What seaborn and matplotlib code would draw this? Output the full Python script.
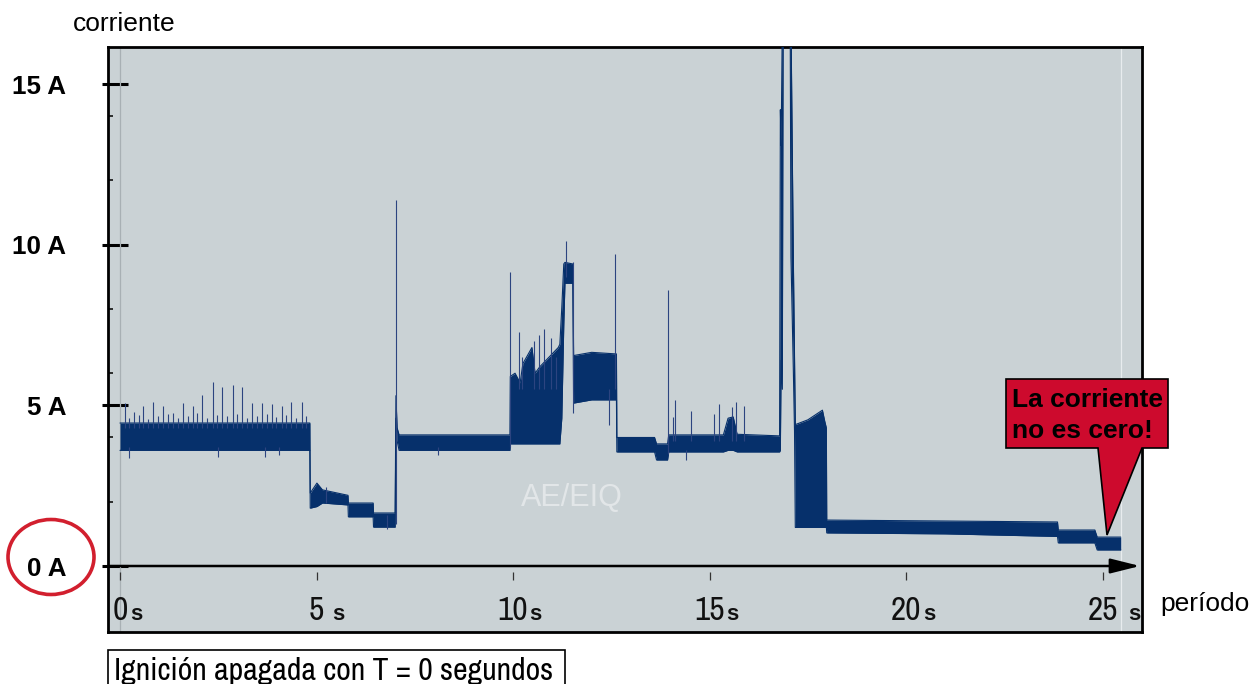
import numpy as np
import pandas as pd
import matplotlib
matplotlib.use('Agg')
import matplotlib.pyplot as plt
import matplotlib.transforms as mtransforms
from matplotlib.patches import Ellipse, Polygon, Rectangle
from matplotlib import font_manager
import seaborn as sns

# band of the trace (time in s, lower / upper edge in A)
env_t = [0.00, 4.83, 4.84, 5.01, 5.15, 5.80, 5.81, 6.44, 6.45, 7.00, 7.02, 7.05, 7.10,
         9.92, 9.93, 10.05, 10.18, 10.25, 10.48, 10.56, 10.68, 11.15, 11.19, 11.24, 11.29,
         11.32, 11.52, 11.54, 12.00, 12.63, 12.64, 13.60, 13.65, 13.93, 13.96, 15.35, 15.47,
         15.60, 15.70, 16.78, 16.80, 16.82, 16.85, 16.87, 17.05, 17.07, 17.13, 17.16, 17.18,
         17.50, 17.87, 17.93, 17.97, 17.98, 21.00, 23.85, 23.87, 24.80, 24.86, 25.46]
env_lo = [3.60, 3.60, 1.80, 1.85, 1.96, 1.90, 1.53, 1.53, 1.21, 1.21, 4.60, 3.90, 3.60,
          3.60, 3.80, 3.80, 3.80, 3.80, 3.80, 3.80, 3.80, 3.80, 3.80, 4.60, 7.50,
          8.80, 8.80, 5.07, 5.17, 5.17, 3.55, 3.55, 3.30, 3.30, 3.55, 3.55, 3.60,
          3.60, 3.55, 3.55, 3.60, 6.40, 5.50, 17.0, 17.0, 9.60, 6.10, 4.20, 1.20,
          1.20, 1.20, 1.20, 1.20, 1.03, 1.00, 0.92, 0.72, 0.72, 0.50, 0.50]
env_hi = [4.45, 4.45, 2.27, 2.58, 2.37, 2.20, 1.96, 1.96, 1.65, 1.65, 5.30, 4.30, 4.08,
          4.08, 5.90, 6.00, 5.70, 6.30, 6.80, 6.00, 6.20, 6.80, 6.90, 8.06, 9.40,
          9.45, 9.40, 6.55, 6.65, 6.60, 4.00, 4.00, 3.80, 3.80, 4.08, 4.08, 4.60,
          4.64, 4.10, 4.05, 14.2, 13.1, 17.0, 17.5, 17.5, 17.0, 9.60, 6.50, 4.40,
          4.55, 4.85, 4.50, 4.30, 1.43, 1.40, 1.37, 1.12, 1.12, 0.90, 0.90]

# single spikes (time, from, to) in A
spike_t = [0.127, 0.364, 0.593, 0.847, 1.100, 1.356, 1.595, 1.849, 2.094, 2.358, 2.595,
           2.867, 3.104, 3.350, 3.605, 3.859, 4.113, 4.350, 4.622,
           0.24, 0.49, 0.72, 0.97, 1.23, 1.47, 1.72, 1.97, 2.22, 2.48, 2.73, 2.98,
           3.23, 3.48, 3.73, 3.98, 4.23, 4.48, 4.74,
           0.23, 2.49, 3.69, 4.05,
           7.01, 9.91, 10.15, 10.23, 10.53, 10.66, 10.79, 10.96, 11.09, 11.35, 11.52,
           12.44, 12.59, 13.94, 14.07, 14.12, 14.52, 15.11, 15.24, 15.57, 15.67, 15.87,
           5.25, 6.80, 8.10, 14.40]
spike_lo = ([4.3] * 19 + [4.3] * 19 + [3.35, 3.40, 3.40, 3.45] +
            [1.3, 3.7, 5.5, 5.5, 5.5, 5.5, 5.5, 5.5, 5.5, 9.0, 4.75,
             4.4, 5.5, 3.5, 3.9, 3.9, 3.9, 3.9, 3.9, 3.9, 3.9, 3.9] +
            [1.95, 1.15, 3.45, 3.30])
spike_hi = ([5.07, 4.80, 4.98, 5.10, 4.98, 4.75, 5.07, 4.98, 5.32, 5.73, 5.57,
             5.63, 5.57, 5.07, 5.07, 5.04, 4.98, 5.10, 5.10] +
            [4.62, 4.70, 4.58, 4.66, 4.72, 4.60, 4.68, 4.75, 4.62, 4.70, 4.66, 4.74,
             4.60, 4.68, 4.72, 4.64, 4.70, 4.62, 4.68] +
            [3.70, 3.70, 3.70, 3.70] +
            [11.4, 9.15, 7.28, 6.50, 7.00, 7.20, 7.37, 7.10, 6.50, 10.1, 9.45,
             5.50, 9.70, 8.60, 4.64, 5.17, 4.82, 4.73, 5.04, 4.95, 5.10, 4.98] +
            [2.45, 1.60, 3.70, 3.60])

x_ticks = [0, 5, 10, 15, 20, 25]
x_labels = ['0', '5', '10', '15', '20', '25']
s_gap_px = [3, 8, 1, 1, 2, 10]
y_major = [0, 5, 10, 15]
y_labels = ['0 A', '5 A', '10 A', '15 A']
y_minor = [2, 4, 6, 8, 12, 14]

navy = '#06306b'
panel = '#cad2d5'

sns.set_theme(style='white', rc={'axes.facecolor': panel, 'text.color': 'black',
                                 'ytick.color': 'black', 'ytick.labelcolor': 'black'})
fonts = font_manager.fontManager.ttflist
names = {f.name for f in fonts}
sans = 'Liberation Sans' if 'Liberation Sans' in names else 'DejaVu Sans'
narrow_c = [f.name for f in fonts if 'Narrow' in f.name or 'Condensed' in f.name]
narrow = narrow_c[0] if narrow_c else sans
plt.rcParams['font.family'] = [sans, 'DejaVu Sans']

W, H = 1258, 684
fig = plt.figure(figsize=(W / 100, H / 100), dpi=100)
ax = fig.add_axes([108 / W, 1 - 632 / H, (1142 - 108) / W, (632 - 47) / H])
ax.set_xlim(-0.305, 26.0)
ax.set_ylim(-2.054, 16.153)

# light vertical guides of the recorder
ax.axvline(0, color='#a8b0b4', lw=0.9, zorder=1)
ax.axvline(25.46, color='#e8ecee', lw=0.9, zorder=1)

df = pd.DataFrame({'t': env_t, 'lo': env_lo, 'hi': env_hi})
ax.fill_between(df['t'], df['lo'], df['hi'], color=navy, lw=0, zorder=3)
sns.lineplot(data=df, x='t', y='hi', ax=ax, color=navy, lw=0.8, sort=False,
             estimator=None, zorder=3)
sns.lineplot(data=df, x='t', y='lo', ax=ax, color=navy, lw=0.8, sort=False,
             estimator=None, zorder=3)
ax.vlines(spike_t, spike_lo, spike_hi, colors='#2c4480', lw=0.8, zorder=3)

# zero axis with arrow
ax.annotate('', xy=(25.95, 0), xytext=(-0.305, 0),
            arrowprops=dict(arrowstyle='-|>,head_length=1.2,head_width=0.3',
                            color='black', lw=1.8, mutation_scale=15,
                            shrinkA=0, shrinkB=0), zorder=4)

for s in ax.spines.values():
    s.set_visible(True)
    s.set_color('black')
    s.set_linewidth(2.0)

ax.set_xticks([])
ax.set_yticks(y_major)
ax.set_yticklabels(y_labels, fontweight='bold', fontsize=18.7, family=[sans],
                   color='black')
ax.set_yticks(y_minor, minor=True)
ax.tick_params(axis='y', which='major', direction='in', length=14.5, width=2.2,
               pad=30, color='black', left=True)
ax.tick_params(axis='y', which='minor', direction='in', length=3.5, width=1.1,
               color='black', left=True)
for v in y_major:
    ax.plot([-0.006, 0], [v, v], transform=ax.get_yaxis_transform(), color='black',
            lw=2.2, clip_on=False, solid_capstyle='butt')
ax.set_xlabel('')
ax.set_ylabel('')

# time ticks and labels inside the panel
px_t = 39.31
renderer = fig.canvas.get_renderer()
ax.vlines(x_ticks, -0.44, -0.19, colors='#333333', lw=0.9)
for t, lab, gap in zip(x_ticks, x_labels, s_gap_px):
    d = ax.text(t, -1.68, lab, ha='center', va='baseline', fontsize=24,
                family=[narrow], color='#111111')
    half = d.get_window_extent(renderer).width / 2
    ax.text(t + (half + gap) / px_t, -1.68, 's', ha='left', va='baseline',
            fontsize=16, fontweight='bold', color='#111111')

ax.text(11.5, 2.12, 'AE/EIQ', ha='center', va='center', fontsize=22,
        color='#e2e6e8', zorder=2)

# annotations in pixel coordinates (origin top-left)
px = mtransforms.Affine2D().scale(1, -1).translate(0, H)
fig.text(73, 31, 'corriente', transform=px, fontsize=19, ha='left', va='baseline')
fig.text(1160, 611, 'período', transform=px, fontsize=19, ha='left', va='baseline')

fig.add_artist(Ellipse((51, 557), 86, 75, transform=px, fill=False,
                       ec='#d21f2e', lw=2.6))

callout = [(1006, 379), (1168, 379), (1168, 448), (1142, 448), (1107, 535),
           (1098, 448), (1006, 448)]
fig.add_artist(Polygon(callout, closed=True, transform=px, fc='#cd0a2d',
                       ec='black', lw=1.2))
fig.text(1012, 407, 'La corriente', transform=px, fontsize=19, fontweight='bold',
         ha='left', va='baseline')
fig.text(1012, 438, 'no es cero!', transform=px, fontsize=19, fontweight='bold',
         ha='left', va='baseline')

fig.add_artist(Rectangle((108, 650), 457, 45, transform=px, fc='white',
                         ec='black', lw=1.2))
note = fig.text(114, 680, 'Ignición apagada con T = 0 segundos', transform=px,
                fontsize=20, family=[narrow], ha='left', va='baseline')
w = note.get_window_extent(renderer).width
note.set_fontsize(min(23.0, 20 * 440 / w))

fig.savefig('out.png', dpi=100)
